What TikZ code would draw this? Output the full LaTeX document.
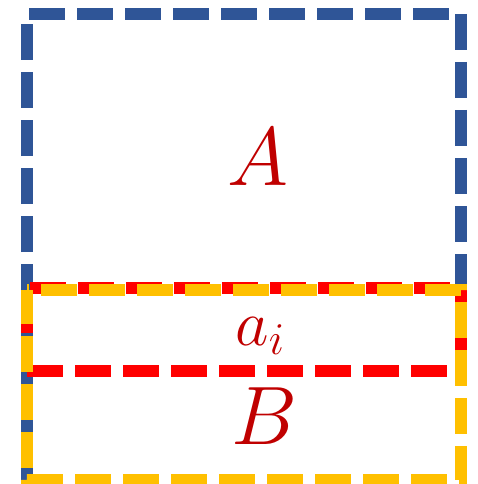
\documentclass[tikz,border=0pt]{standalone}
\usepackage{fix-cm}
\usepackage{xcolor}
\definecolor{setblue}{HTML}{2F5597}
\definecolor{setred}{HTML}{FF0000}
\definecolor{setyellow}{HTML}{FFC000}
\definecolor{letterred}{HTML}{C00000}

\begin{document}
\begin{tikzpicture}[
    x=1pt, y=-1pt,
    frame/.style={
        line width=12pt,
        dash pattern=on 36pt off 12pt
    },
    bluebox/.style={frame, draw=setblue, dash phase=12pt},
    redbox/.style={frame, draw=setred, dash phase=0pt},
    yellowbox/.style={frame, draw=setyellow, dash phase=34pt},
    letter/.style={
        text=letterred,
        inner sep=0pt,
        font=\fontsize{83}{83}\selectfont
    },
    small/.style={letter, font=\fontsize{65}{65}\selectfont}
]
\useasboundingbox (0,0) rectangle (478,484);

% the three sets
\draw[bluebox] (27,480) -- (27,14) -- (461,14) -- (461,480) -- cycle;
\draw[redbox] (27,371) -- (461,371) -- (461,288) -- (27,288) -- cycle;
\draw[yellowbox] (27,290) -- (461,290) -- (461,480) -- (27,480) -- cycle;

% names
\node[letter] (A) at (258,157) {$A$};
\node[small, anchor=base] (ai) at (260,345) {$a_i$};
\node[letter] (B) at (264,416) {$B$};

\end{tikzpicture}
\end{document}
